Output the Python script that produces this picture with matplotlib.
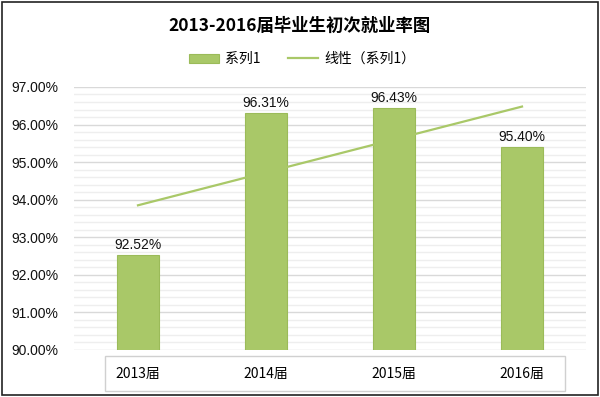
import numpy as np
import matplotlib
matplotlib.use('Agg')
import matplotlib.pyplot as plt
from matplotlib.patches import Rectangle
from matplotlib.ticker import MultipleLocator, FuncFormatter

plt.rcParams['font.family'] = ['Liberation Sans', 'Noto Sans CJK SC', 'DejaVu Sans']

years = ['2013届', '2014届', '2015届', '2016届']
rates = [92.52, 96.31, 96.43, 95.40]
title = '2013-2016届毕业生初次就业率图'

bar_color = '#a9c868'
edge_color = '#9bbb59'
cjk = ['Noto Sans CJK SC', 'DejaVu Sans']

fig = plt.figure(figsize=(6, 3.97), dpi=100)
ax = fig.add_axes([0.1233, 0.1184, 0.8534, 0.6625])

x = np.arange(len(years))
bars = ax.bar(x, rates, width=0.33, color=bar_color, edgecolor=edge_color,
              linewidth=0.8, zorder=3)

# linear trend (Excel style trendline)
k, b = np.polyfit(x + 1, rates, 1)
trend, = ax.plot(x, k * (x + 1) + b, color=bar_color, linewidth=1.6, zorder=4)

for xi, v in zip(x, rates):
    ax.text(xi, v + 0.08, '%.2f%%' % v, ha='center', va='bottom',
            fontsize=10, color='#111111', zorder=5)

ax.set_xlim(-0.5, len(years) - 0.5)
ax.set_ylim(90, 97)
ax.yaxis.set_major_locator(MultipleLocator(1))
ax.yaxis.set_minor_locator(MultipleLocator(0.2))
ax.yaxis.set_major_formatter(FuncFormatter(lambda v, p: '%.2f%%' % v))
ax.grid(axis='y', which='major', color='#d9d9d9', linewidth=1.0, zorder=0)
ax.grid(axis='y', which='minor', color='#eeeeee', linewidth=1.0, zorder=0)
for s in ax.spines.values():
    s.set_visible(False)
ax.tick_params(axis='y', which='both', length=0, labelsize=10,
               labelcolor='#111111', pad=11)
ax.tick_params(axis='x', length=0, pad=12)
ax.set_xticks(x)
ax.set_xticklabels(years, fontsize=10, family=cjk)

# box around category labels
fig.patches.append(Rectangle((105 / 600, 1 - 391 / 397), 460 / 600, 35 / 397,
                             transform=fig.transFigure, fill=False,
                             edgecolor='#d0d0d0', linewidth=1.0))
# outer chart border
fig.patches.append(Rectangle((2 / 600, 2 / 397), 596 / 600, 393 / 397,
                             transform=fig.transFigure, fill=False,
                             edgecolor='#222222', linewidth=1.2))

fig.text(0.5, 1 - 26 / 397, title, ha='center', va='center', fontsize=12.5,
         fontweight='bold', family=cjk)

fig.legend([bars, trend], ['系列1', '线性（系列1）'], loc='center',
           bbox_to_anchor=(0.503, 1 - 59 / 397), ncol=2,
           frameon=False, handlelength=2.2, handleheight=0.6,
           columnspacing=2.0, handletextpad=0.4,
           prop={'family': cjk, 'size': 10})

fig.savefig('out.png', dpi=100)
